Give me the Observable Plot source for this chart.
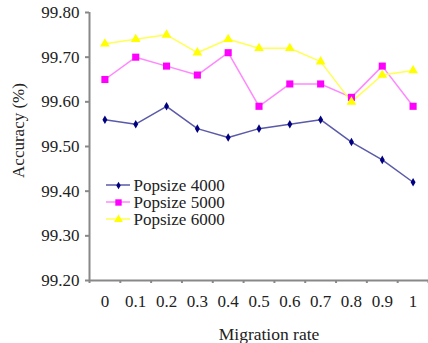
<!DOCTYPE html>
<html>
<head>
<meta charset="utf-8">
<script src="https://cdn.jsdelivr.net/npm/d3@7"></script>
<script src="https://cdn.jsdelivr.net/npm/@observablehq/plot@0.6"></script>
<style>
  html, body { margin: 0; padding: 0; background: #fff; }
</style>
</head>
<body>
<div id="wrap"></div>
<script>
const migrationRates = [0, 0.1, 0.2, 0.3, 0.4, 0.5, 0.6, 0.7, 0.8, 0.9, 1];
const xTickLabels = ["0", "0.1", "0.2", "0.3", "0.4", "0.5", "0.6", "0.7", "0.8", "0.9", "1"];
const popsize4000 = [99.56, 99.55, 99.59, 99.54, 99.52, 99.54, 99.55, 99.56, 99.51, 99.47, 99.42];
const popsize5000 = [99.65, 99.70, 99.68, 99.66, 99.71, 99.59, 99.64, 99.64, 99.61, 99.68, 99.59];
const popsize6000 = [99.73, 99.74, 99.75, 99.71, 99.74, 99.72, 99.72, 99.69, 99.60, 99.66, 99.67];
const seriesNames = ["Popsize 4000", "Popsize 5000", "Popsize 6000"];
const yTicks = [99.2, 99.3, 99.4, 99.5, 99.6, 99.7, 99.8];

const font = "Liberation Serif, Times New Roman, serif";
const markerColors = ["#000080", "#ff00ff", "#ffff00"];
const lineColors = ["#5a5aa8", "#ff88ff", "#ffff55"];
const symbols = ["diamond", "square", "triangle"];
const radii = [2.6, 4, 3.6];

const allSeries = [popsize4000, popsize5000, popsize6000];
const rows = [];
allSeries.forEach((vals, si) => vals.forEach((v, i) => rows.push({series: seriesNames[si], si, x: migrationRates[i], y: v})));

const boundaries = d3.range(0, 11).map(k => -0.05 + 0.1 * k).concat([1.05]);

// legend layout (pixel offsets from the frame's top-left corner)
const legDx = 17, legDy = 173, legStep = 17;

const chart = Plot.plot({
  width: 428,
  height: 343,
  marginLeft: 89,
  marginRight: 0,
  marginTop: 12,
  marginBottom: 63,
  style: {fontFamily: font, background: "#fff", color: "#222"},
  x: {domain: [-0.05, 1.05]},
  y: {domain: [99.2, 99.8]},
  marks: [
    Plot.axisY({ticks: yTicks, tickFormat: d3.format(".2f"), tickSize: 4, tickPadding: 6, fontSize: 17, stroke: "#888", strokeWidth: 2, label: null}),
    Plot.axisX({ticks: boundaries, tickFormat: () => "", tickSize: 3, stroke: "#888", strokeWidth: 2, label: null}),
    Plot.axisX({ticks: migrationRates, tickFormat: (d, i) => xTickLabels[i], tickSize: 0, tickPadding: 14, fontSize: 17, label: null}),
    Plot.ruleX([-0.05], {stroke: "#888", strokeWidth: 2, y1: 99.2, y2: 99.8}),
    Plot.ruleY([99.2], {stroke: "#888", strokeWidth: 2}),
    ...[0, 1, 2].map(si => Plot.line(rows.filter(r => r.si === si), {x: "x", y: "y", stroke: lineColors[si], strokeWidth: 1.5})),
    ...[0, 1, 2].map(si => Plot.dot(rows.filter(r => r.si === si), {x: "x", y: "y", symbol: symbols[si], r: radii[si], fill: markerColors[si], stroke: "none"})),
    // legend labels and symbols
    ...seriesNames.map((name, i) => Plot.text([name], {frameAnchor: "top-left", textAnchor: "start", lineAnchor: "middle", dx: legDx + 27, dy: legDy + i * legStep, fontSize: 17, fill: "#222"})),
    ...seriesNames.map((name, i) => Plot.dot([name], {frameAnchor: "top-left", dx: legDx + 12, dy: legDy + i * legStep, symbol: symbols[i], r: radii[i] * 0.9, fill: markerColors[i], stroke: "none"})),
    Plot.text(["Migration rate"], {frameAnchor: "bottom", textAnchor: "middle", dx: 10, dy: 59, fontSize: 17.5, fill: "#222"}),
    Plot.text(["Accuracy (%)"], {frameAnchor: "left", textAnchor: "middle", rotate: -90, dx: -71, dy: -16, fontSize: 17, fill: "#222"})
  ]
});
document.getElementById("wrap").appendChild(chart);

// legend line segments, placed behind the legend symbols
const frameLeft = 89, frameTop = 12;
const lg = d3.select(chart).insert("g", "g[aria-label='text']");
seriesNames.forEach((name, i) => {
  const y = frameTop + legDy + i * legStep;
  lg.append("line").attr("x1", frameLeft + legDx).attr("x2", frameLeft + legDx + 24)
    .attr("y1", y).attr("y2", y).attr("stroke", lineColors[i]).attr("stroke-width", 1.5);
});
</script>
</body>
</html>
